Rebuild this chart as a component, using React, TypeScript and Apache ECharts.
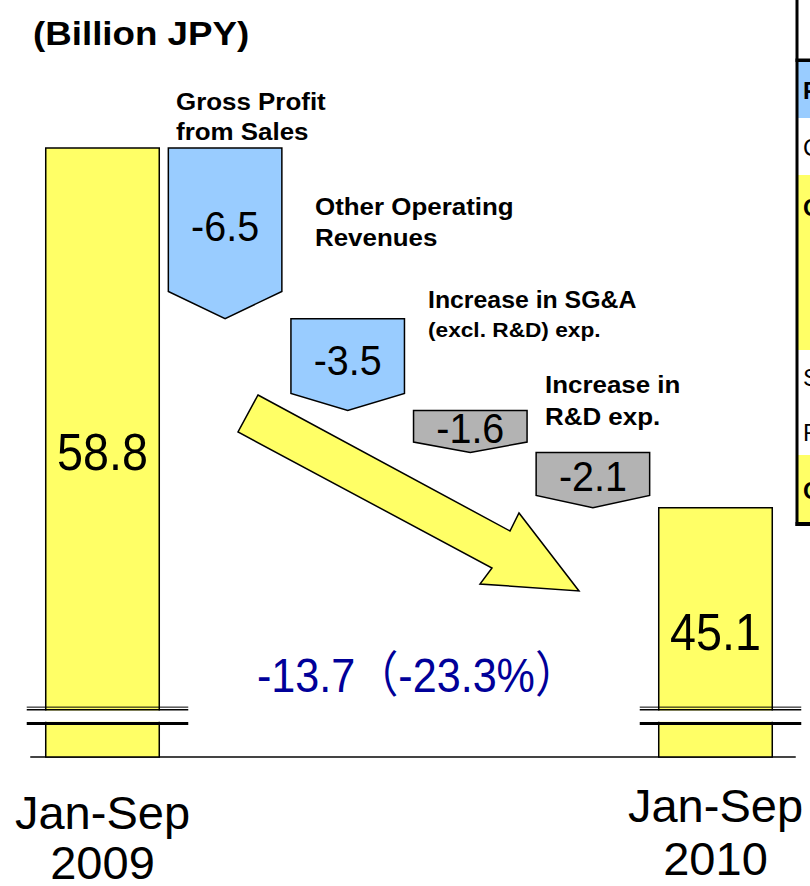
import React, { useEffect, useRef } from 'react';
import * as echarts from 'echarts';

// ---------------- data ----------------
const categories = [
  'Jan-Sep\n2009',
  'Gross Profit\nfrom Sales',
  'Other Operating\nRevenues',
  'Increase in SG&A\n(excl. R&D) exp.',
  'Increase in\nR&D exp.',
  'Jan-Sep\n2010',
];
const startValue = 58.8;
const endValue = 45.1;
const changeValues = [-6.5, -3.5, -1.6, -2.1];
const changeGroups = ['revenue', 'revenue', 'expense', 'expense'];
const totalChange = -13.7;
const totalChangePct = -23.3;
const unitLabel = '(Billion JPY)';
const tableRowLetters = ['F', 'C', 'C', 'S', 'F', 'C'];

// ---------------- layout / style ----------------
const AXIS_MIN = 35.6;
const AXIS_MAX = 62;
const BREAK_VALUE = 37.5;
const FONT = '"Liberation Sans", Arial, "Noto Sans CJK JP", sans-serif';
const COLORS: Record<string, string> = {
  total: '#FFFF66',
  revenue: '#99CCFF',
  expense: '#B3B3B3',
};

type Bar = { idx: number; top: number; bottom: number; kind: string; label: number };

function buildBars(): Bar[] {
  const bars: Bar[] = [];
  bars.push({ idx: 0, top: startValue, bottom: AXIS_MIN, kind: 'total', label: startValue });
  let level = startValue;
  changeValues.forEach((v, i) => {
    bars.push({ idx: i + 1, top: level, bottom: level + v, kind: changeGroups[i], label: v });
    level += v;
  });
  bars.push({ idx: categories.length - 1, top: endValue, bottom: AXIS_MIN, kind: 'total', label: endValue });
  return bars;
}

const annoLayout = [
  { x: 176, y: [101, 131], size: [24, 24] },
  { x: 315, y: [206, 237], size: [24, 24] },
  { x: 428, y: [300, 330], size: [23, 21] },
  { x: 545, y: [384, 416], size: [24, 24] },
];

export default function App() {
  const ref = useRef<HTMLDivElement>(null);

  useEffect(() => {
    if (!ref.current) return;
    const chart = echarts.init(ref.current, undefined, { renderer: 'svg' });
    const bars = buildBars();

    const graphics: any[] = [];
    // title
    graphics.push({
      type: 'text', x: 33, y: 33, scaleX: 1.08,
      style: { text: unitLabel, x: 0, y: 0, fontSize: 34, fontWeight: 'bold', fontFamily: FONT, fill: '#000', align: 'left', verticalAlign: 'middle' },
    });
    // annotations from category names
    annoLayout.forEach((a, i) => {
      const lines = categories[i + 1].split('\n');
      lines.forEach((ln, j) => {
        graphics.push({
          type: 'text', x: a.x, y: a.y[j], scaleX: 1.08,
          style: { text: ln, x: 0, y: 0, fontSize: a.size[j], fontWeight: 'bold', fontFamily: FONT, fill: '#000', align: 'left', verticalAlign: 'middle' },
        });
      });
    });
    // big arrow
    graphics.push({
      type: 'polygon',
      shape: { points: [[258, 395], [510, 531], [519, 513], [579, 591], [480, 584], [492, 568], [238, 432]] },
      style: { fill: '#FFFF66', stroke: '#000', lineWidth: 1.5 },
    });
    // total change text
    graphics.push({
      type: 'text', x: 257, y: 675, scaleX: 0.88,
      style: {
        text: `${totalChange.toFixed(1)}（${totalChangePct.toFixed(1)}%）`,
        x: 0, y: 0, fontSize: 49, fontFamily: FONT, fill: '#000099', align: 'left', verticalAlign: 'middle',
      },
    });
    // cut-off table on the right
    const rowFills = [
      { y: 62, h: 56, fill: '#99CCFF' },
      { y: 175, h: 175, fill: '#FFFF66' },
      { y: 455, h: 67, fill: '#FFFF66' },
    ];
    rowFills.forEach((r) => graphics.push({ type: 'rect', shape: { x: 798, y: r.y, width: 14, height: r.h }, style: { fill: r.fill } }));
    graphics.push({ type: 'rect', shape: { x: 795.5, y: 0, width: 3, height: 526 }, style: { fill: '#000' } });
    graphics.push({ type: 'rect', shape: { x: 795.5, y: 58.5, width: 16, height: 3.5 }, style: { fill: '#000' } });
    graphics.push({ type: 'rect', shape: { x: 795.5, y: 522, width: 16, height: 4 }, style: { fill: '#000' } });
    const letterY = [90, 147, 207, 377, 432, 490];
    const letterBold = [true, false, true, false, false, true];
    tableRowLetters.forEach((t, i) => {
      graphics.push({
        type: 'text', x: 803, y: letterY[i],
        style: { text: t, x: 0, y: 0, fontSize: 24, fontWeight: letterBold[i] ? 'bold' : 'normal', fontFamily: FONT, fill: '#000', align: 'left', verticalAlign: 'middle' },
      });
    });

    const option: any = {
      animation: false,
      backgroundColor: '#fff',
      grid: [
        { left: 41.2, right: 33.2, top: 64, bottom: 129, outerBoundsMode: 'none', containLabel: false },
        { left: 31, right: 15, top: 64, bottom: 129, outerBoundsMode: 'none', containLabel: false },
      ],
      xAxis: [
        {
          type: 'category', gridIndex: 0,
          data: categories.map((c, i) => {
            if (i === 0) return { value: c, textStyle: { lineHeight: 50, padding: [8, 0, 0, 0] } };
            if (i === categories.length - 1) return { value: c, textStyle: { lineHeight: 53 } };
            return c;
          }),
          axisLine: { show: false }, axisTick: { show: false }, splitLine: { show: false },
          axisLabel: {
            interval: 0, margin: 22, fontSize: 47, fontFamily: FONT, color: '#000', lineHeight: 52,
            hideOverlap: false,
            formatter: (v: string, i: number) => (i === 0 || i === categories.length - 1 ? v : ''),
          },
        },
        {
          type: 'value', gridIndex: 1, min: 0, max: 1,
          axisLine: { show: true, lineStyle: { color: '#444', width: 2 } },
          axisTick: { show: false }, axisLabel: { show: false }, splitLine: { show: false },
        },
      ],
      yAxis: [
        { type: 'value', gridIndex: 0, min: AXIS_MIN, max: AXIS_MAX, show: false },
        { type: 'value', gridIndex: 1, min: 0, max: 1, show: false },
      ],
      series: [
        {
          type: 'custom',
          xAxisIndex: 0, yAxisIndex: 0,
          encode: { x: 0, y: [1, 2] },
          data: bars.map((b) => [b.idx, b.top, b.bottom]),
          renderItem: (params: any, api: any) => {
            const b = bars[params.dataIndex];
            const idx = api.value(0);
            const p1 = api.coord([idx, api.value(1)]);
            const p2 = api.coord([idx, api.value(2)]);
            const cx = p1[0];
            const yTop = p1[1];
            const yBot = p2[1];
            const w = api.size([1, 0])[0] * 0.926;
            const h = yBot - yTop;
            const children: any[] = [];
            if (b.kind === 'total') {
              children.push({
                type: 'rect',
                shape: { x: cx - w / 2, y: yTop, width: w, height: h },
                style: { fill: COLORS.total, stroke: '#000', lineWidth: 1.5 },
              });
              const yb = api.coord([idx, BREAK_VALUE])[1];
              const x0 = cx - w / 2 - 19;
              const x1 = cx + w / 2 + 29;
              children.push({ type: 'rect', shape: { x: cx - w / 2 - 2, y: yb + 3.3, width: w + 4, height: 11.4 }, style: { fill: '#fff' } });
              children.push({ type: 'line', shape: { x1: x0, y1: yb, x2: x1, y2: yb }, style: { stroke: '#000', lineWidth: 1 } });
              children.push({ type: 'line', shape: { x1: x0, y1: yb + 2.6, x2: x1, y2: yb + 2.6 }, style: { stroke: '#000', lineWidth: 1.4 } });
              children.push({ type: 'line', shape: { x1: x0, y1: yb + 16.3, x2: x1, y2: yb + 16.3 }, style: { stroke: '#000', lineWidth: 3 } });
              children.push({
                type: 'text', x: cx, y: (yTop + yBot) / 2, scaleX: 0.915,
                style: { text: b.label.toFixed(1), x: 0, y: 0, fontSize: 51, fontFamily: FONT, fill: '#000', align: 'center', verticalAlign: 'middle' },
              });
            } else {
              const tip = 0.13 * h + 5;
              children.push({
                type: 'polygon',
                shape: {
                  points: [
                    [cx - w / 2, yTop], [cx + w / 2, yTop], [cx + w / 2, yBot - tip],
                    [cx, yBot], [cx - w / 2, yBot - tip],
                  ],
                },
                style: { fill: COLORS[b.kind], stroke: '#000', lineWidth: 1.5 },
              });
              children.push({
                type: 'text', x: cx, y: (yTop + yBot) / 2 - tip * 0.25, scaleX: 0.94,
                style: { text: b.label.toFixed(1), x: 0, y: 0, fontSize: 42, fontFamily: FONT, fill: '#000', align: 'center', verticalAlign: 'middle' },
              });
            }
            return { type: 'group', children };
          },
        },
      ],
      graphic: graphics,
    };

    chart.setOption(option);
    return () => chart.dispose();
  }, []);

  return <div ref={ref} style={{ position: 'fixed', left: 0, top: 0, width: 810, height: 886, background: '#fff' }} />;
}
